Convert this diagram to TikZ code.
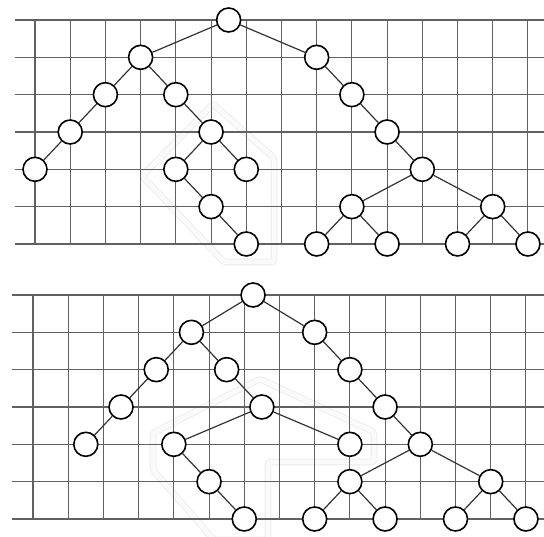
\documentclass[tikz,border=0pt]{standalone}
\usepackage{tikz}

\begin{document}
\begin{tikzpicture}[x=1pt, y=-1pt,
        gridline/.style={draw=black!62, line width=1.1pt},
        hull/.style={draw=black!8, double=black!2, double distance=5pt, line width=0.8pt, rounded corners=3pt},
        vertex/.style={draw, circle, fill=white, line width=1.6pt, minimum size=24pt, inner sep=0pt},
        edge/.style={draw=black!80, line width=1.2pt}]
    \useasboundingbox (0,0) rectangle (544,537);

    % faint outlines round the moved parts
    \draw[hull] (213,104) -- (274,158) -- (274,262) -- (224,262) -- (142,176) -- cycle;
    \draw[hull] (260,379) -- (374,432) -- (374,462) -- (268,462) -- (268,540) -- (214,540) -- (153,470) -- (153,433) -- cycle;

    % upper tree
    \begin{scope}[xshift=35pt, yshift=-20pt, x=35.21pt, y=-37.33pt]
        \foreach \r in {0,...,6} \draw[gridline] (-0.58,\r) -- (14.5,\r);
        \foreach \c in {0,...,14} \draw[gridline] (\c,0) -- (\c,6);

        \node (t0) [vertex] at (5.5,0) {};
        \node (t1) [vertex] at (3,1) {};
        \node (t2) [vertex] at (2,2) {};
        \node (t3) [vertex] at (1,3) {};
        \node (t4) [vertex] at (0,4) {};
        \node (t5) [vertex] at (4,2) {};
        \node (t6) [vertex] at (5,3) {};
        \node (t7) [vertex] at (4,4) {};
        \node (t8) [vertex] at (6,4) {};
        \node (t9) [vertex] at (5,5) {};
        \node (t10) [vertex] at (6,6) {};
        \node (t11) [vertex] at (8,1) {};
        \node (t12) [vertex] at (9,2) {};
        \node (t13) [vertex] at (10,3) {};
        \node (t14) [vertex] at (11,4) {};
        \node (t15) [vertex] at (9,5) {};
        \node (t16) [vertex] at (8,6) {};
        \node (t17) [vertex] at (10,6) {};
        \node (t18) [vertex] at (13,5) {};
        \node (t19) [vertex] at (12,6) {};
        \node (t20) [vertex] at (14,6) {};

        \foreach \a/\b in {t0/t1, t1/t2, t2/t3, t3/t4, t1/t5, t5/t6, t6/t7, t6/t8, t7/t9, t9/t10,
                t0/t11, t11/t12, t12/t13, t13/t14, t14/t15, t15/t16, t15/t17, t14/t18, t18/t19, t18/t20}
            \draw[edge] (\a) -- (\b);
    \end{scope}

    % lower tree
    \begin{scope}[xshift=33pt, yshift=-295pt, x=35.21pt, y=-37.33pt]
        \foreach \r in {0,...,6} \draw[gridline] (-0.6,\r) -- (14.5,\r);
        \foreach \c in {0,...,14} \draw[gridline] (\c,0) -- (\c,6);

        \node (b0) [vertex] at (6.25,0) {};
        \node (b1) [vertex] at (4.5,1) {};
        \node (b2) [vertex] at (3.5,2) {};
        \node (b3) [vertex] at (2.5,3) {};
        \node (b4) [vertex] at (1.5,4) {};
        \node (b5) [vertex] at (5.5,2) {};
        \node (b6) [vertex] at (6.5,3) {};
        \node (b7) [vertex] at (4,4) {};
        \node (b8) [vertex] at (9,4) {};
        \node (b9) [vertex] at (5,5) {};
        \node (b10) [vertex] at (6,6) {};
        \node (b11) [vertex] at (8,1) {};
        \node (b12) [vertex] at (9,2) {};
        \node (b13) [vertex] at (10,3) {};
        \node (b14) [vertex] at (11,4) {};
        \node (b15) [vertex] at (9,5) {};
        \node (b16) [vertex] at (8,6) {};
        \node (b17) [vertex] at (10,6) {};
        \node (b18) [vertex] at (13,5) {};
        \node (b19) [vertex] at (12,6) {};
        \node (b20) [vertex] at (14,6) {};

        \foreach \a/\b in {b0/b1, b1/b2, b2/b3, b3/b4, b1/b5, b5/b6, b6/b7, b6/b8, b7/b9, b9/b10,
                b0/b11, b11/b12, b12/b13, b13/b14, b14/b15, b15/b16, b15/b17, b14/b18, b18/b19, b18/b20}
            \draw[edge] (\a) -- (\b);
    \end{scope}
\end{tikzpicture}
\end{document}
